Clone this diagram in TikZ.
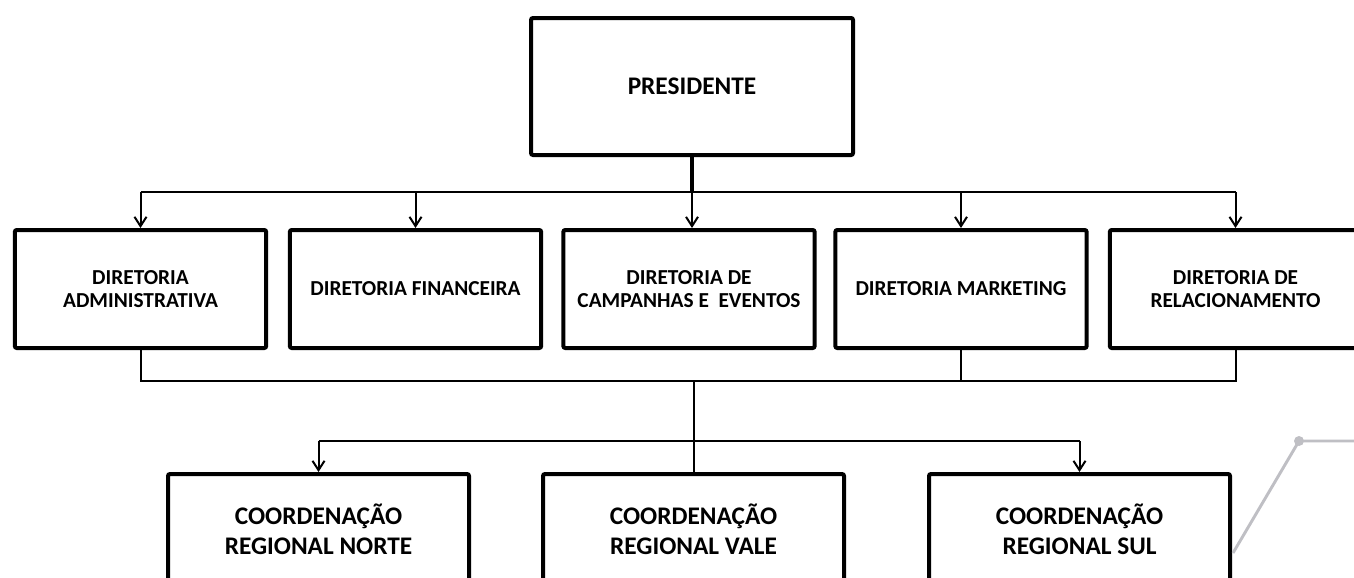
\documentclass[tikz,border=0pt]{standalone}
\usepackage{fontspec}
\setmainfont{Carlito}
\usepackage{tikz}
\usetikzlibrary{arrows.meta}
\tikzset{
% Box styles for the chart: president, directorates and coordinations
top node/.style={draw,line width=3pt,rounded corners=1.5pt,minimum width=241.5pt,minimum height=102.75pt,font=\fontsize{19}{22}\selectfont\bfseries},
dir node/.style={draw,line width=3pt,rounded corners=1.5pt,minimum width=188.5pt,minimum height=88.5pt,align=center,font=\fontsize{16}{17.5}\selectfont\bfseries},
coord node/.style={draw,line width=3pt,rounded corners=1.5pt,minimum width=225.75pt,minimum height=82.5pt,align=center,font=\fontsize{19}{22.5}\selectfont\bfseries},
link/.style={line width=1.5pt},
down link/.style={link,-{Straight Barb[length=7pt,width=9pt]}},
grey line/.style={line width=2.2pt,color=deco}
}
\definecolor{deco}{RGB}{191,191,196}

\begin{document}
\begin{tikzpicture}[x=0.75pt,y=-0.75pt]
\useasboundingbox (0,0) rectangle (1354,578);
\clip (0,0) rectangle (1354,578);
% The boxes
\node(pres)[top node] at (692,86.5){PRESIDENTE};
\node(d1)[dir node] at (140.5,289){DIRETORIA\\ADMINISTRATIVA};
\node(d2)[dir node] at (415.5,289){DIRETORIA FINANCEIRA};
\node(d3)[dir node] at (689,289){DIRETORIA DE\\CAMPANHAS E\ \ EVENTOS};
\node(d4)[dir node] at (961,289){DIRETORIA MARKETING};
\node(d5)[dir node] at (1235.5,289){DIRETORIA DE\\RELACIONAMENTO};
\node(c1)[coord node] at (318.5,529){COORDENAÇÃO\\REGIONAL NORTE};
\node(c2)[coord node] at (693.5,529){COORDENAÇÃO\\REGIONAL VALE};
\node(c3)[coord node] at (1079.5,529){COORDENAÇÃO\\REGIONAL SUL};
% Levels of the buses
\coordinate(bus1) at (0,192);
\coordinate(bus2) at (0,381);
\coordinate(bus3) at (0,441);
% President to directorates
\draw[line width=3pt] (pres.south) -- (pres.south |- bus1);
\draw[link] (d1.north |- bus1) -- (d5.north |- bus1);
\foreach \n in {d1,d2,d4,d5} \draw[down link] (\n.north |- bus1) -- (\n.north);
\draw[down link] (pres.south |- bus1) -- (pres.south |- d3.north);
% Directorates to coordinations
\draw[link] (d1.south) -- (d1.south |- bus2) -- (d5.south |- bus2) -- (d5.south);
\draw[link] (d4.south) -- (d4.south |- bus2);
\draw[link] (c2.north |- bus2) -- (c2.north);
\draw[link] (c1.north |- bus3) -- (c3.north |- bus3);
\foreach \n in {c1,c3} \draw[down link] (\n.north |- bus3) -- (\n.north);
% Grey mark at the right
\coordinate(gstart) at (1233,553);
\coordinate(gdot) at (1299,441);
\coordinate(gend) at (1354,441);
\draw[grey line] (gstart) -- (gdot) -- (gend);
\fill[deco] (gdot) circle (5);
\end{tikzpicture}
\end{document}
